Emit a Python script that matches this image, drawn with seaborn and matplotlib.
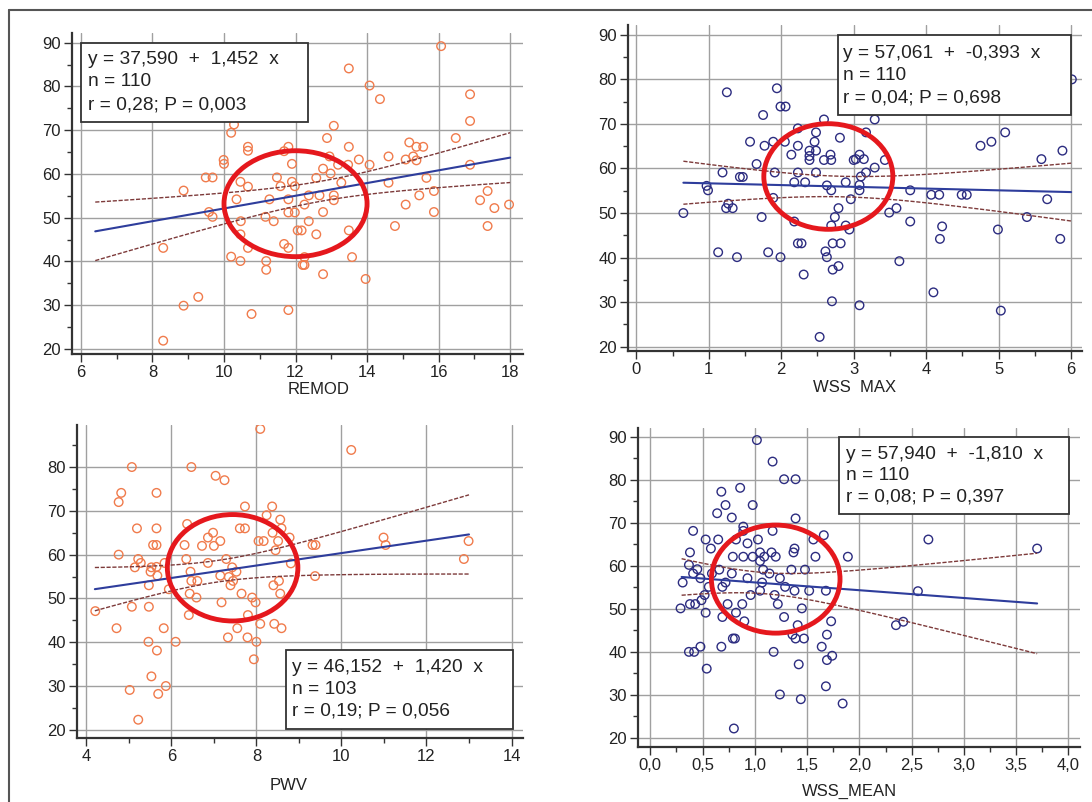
import numpy as np
import pandas as pd
import matplotlib
matplotlib.use("Agg")
import matplotlib.pyplot as plt
import seaborn as sns
from matplotlib.patches import Ellipse, Rectangle
from matplotlib.lines import Line2D
from matplotlib.ticker import MultipleLocator, FuncFormatter

# ---------------- data ----------------
remod_x = [10.28, 10.2, 10.67, 10.67, 11.8, 11.68, 9.99, 10.0, 11.9, 9.49, 9.68, 10.46, 11.48, 11.58, 11.9, 11.98,
           8.87, 10.67, 10.35, 11.27, 11.8, 9.58, 9.68, 11.16, 11.39, 11.8, 11.98, 10.47, 12.06, 12.17, 10.46, 8.3,
           10.67, 11.68, 11.8, 10.2, 10.46, 11.18, 11.18, 12.2, 8.87, 9.28, 10.77, 11.8, 8.3,
           16.07, 13.49, 14.07, 14.36, 16.88, 16.88, 13.07, 12.88, 16.48, 15.18, 15.38, 15.57, 13.49, 14.6, 15.29,
           15.08, 15.38, 12.95, 13.77, 14.07, 13.19, 13.47, 12.77, 12.98, 12.58, 13.28, 14.6, 15.66, 16.88, 12.37,
           12.67, 13.07, 13.07, 12.25, 15.46, 15.87, 17.37, 15.08, 17.16, 17.97, 17.56, 12.77, 15.87, 12.37, 12.58,
           13.49, 14.78, 17.37, 12.25, 12.25, 13.58, 12.77, 13.96]
remod_y = [71.3, 69.4, 66.2, 65.3, 66.2, 65.2, 63.2, 62.3, 62.3, 59.2, 59.2, 58.2, 59.2, 57.2, 58.2, 57.2,
           56.2, 57.1, 54.2, 54.2, 54.2, 51.3, 50.2, 50.2, 49.2, 51.2, 51.2, 49.2, 47.1, 47.1, 46.2, 43.1,
           43.1, 44.0, 43.1, 41.1, 40.1, 40.1, 38.1, 39.2, 29.9, 31.9, 28.0, 28.9, 21.9,
           89.2, 84.1, 80.2, 77.1, 78.2, 72.1, 71.0, 68.2, 68.2, 67.2, 66.2, 66.2, 66.2, 64.0, 64.0,
           63.3, 63.1, 64.0, 63.3, 62.1, 62.1, 62.1, 61.2, 60.1, 59.1, 58.0, 58.0, 59.1, 62.1, 55.1,
           55.1, 55.1, 54.0, 53.0, 55.1, 56.1, 56.1, 53.0, 54.0, 53.0, 52.2, 51.3, 51.3, 49.2, 46.2,
           47.1, 48.1, 48.1, 41.0, 39.2, 41.0, 37.1, 36.0]

wssmax_x = [1.25, 1.94, 1.99, 2.06, 1.75, 2.59, 2.48, 2.23, 2.81, 1.57, 1.89, 1.77, 2.05, 2.46, 2.23, 2.48,
            2.39, 2.39, 2.39, 2.14, 2.59, 2.68, 2.69, 3.0, 1.66, 1.19, 1.43, 1.47, 1.91, 2.23, 2.48, 2.18,
            2.33, 2.63, 2.69, 2.89, 2.96, 0.97, 0.99, 1.89, 1.27, 1.24, 1.33, 0.65, 1.73, 2.18, 2.74, 2.79,
            2.69, 2.89, 2.94, 1.13, 1.39, 1.82, 1.99, 2.23, 2.28, 2.71, 2.82, 2.61, 2.63, 2.71, 2.79, 2.31,
            2.7, 2.53,
            6.01, 3.29, 3.17, 3.08, 3.14, 3.03, 3.43, 3.29, 3.17, 3.10, 3.08, 3.08, 3.08, 3.49, 3.59, 3.78,
            3.78, 3.63, 4.07, 4.18, 4.49, 4.56, 4.22, 4.19, 4.10, 4.75, 4.90, 5.09, 4.99, 5.03, 5.39, 5.59,
            5.67, 5.88, 5.85]
wssmax_y = [77.1, 78.0, 73.9, 73.9, 72.0, 71.0, 68.1, 69.0, 66.9, 66.0, 66.0, 65.1, 66.0, 66.0, 65.1, 64.0,
            64.0, 62.8, 61.9, 63.1, 61.9, 63.1, 61.9, 61.9, 61.0, 59.1, 58.1, 58.1, 59.1, 59.1, 59.1, 56.9,
            56.9, 56.2, 55.1, 56.9, 53.1, 56.1, 55.1, 53.4, 52.1, 51.1, 51.1, 50.0, 49.1, 48.1, 49.1, 51.1,
            47.2, 47.2, 46.3, 41.2, 40.1, 41.2, 40.1, 43.2, 43.2, 43.2, 43.2, 41.4, 40.1, 37.3, 38.1, 36.2,
            30.2, 22.2,
            80.0, 71.0, 68.1, 63.1, 62.1, 62.1, 61.9, 60.2, 59.1, 58.2, 56.3, 55.1, 29.3, 50.1, 51.1, 55.1,
            48.1, 39.2, 54.1, 54.1, 54.1, 54.1, 47.0, 44.2, 32.2, 65.1, 66.0, 68.1, 46.3, 28.1, 49.1, 62.1,
            53.1, 64.0, 44.2]

pwv_x = [8.09, 5.07, 6.47, 7.04, 7.25, 4.82, 4.76, 5.65, 7.73, 8.37, 8.24, 8.56, 6.37, 5.19, 5.65, 7.61,
         7.73, 8.59, 6.98, 8.38, 6.86, 7.15, 5.57, 5.65, 6.31, 6.72, 7.0, 8.05, 8.17, 8.51, 8.78, 8.45,
         4.76, 5.22, 5.28, 5.14, 5.53, 5.65, 5.51, 5.67, 5.84, 6.35, 6.86, 7.29, 7.43, 7.53, 6.45, 7.15,
         7.35, 6.47, 6.61, 7.45, 7.39, 8.81, 8.53, 8.4, 5.47, 5.94, 6.43, 6.59, 7.65, 7.9, 7.98, 8.56,
         7.18, 4.21, 5.07, 5.47, 6.41, 7.8, 8.09, 8.42, 8.59, 7.55, 4.71, 5.82, 7.33, 7.79, 8.0, 5.46,
         6.1, 5.66, 7.94, 5.53, 5.02, 5.87, 5.69, 5.22,
         10.23, 9.32, 9.39, 10.99, 11.04, 12.99, 12.88, 9.38]
pwv_y = [88.7, 80.0, 80.0, 78.0, 77.0, 74.1, 72.0, 74.1, 71.0, 71.0, 69.0, 68.0, 67.0, 66.0, 66.0, 66.0,
         66.0, 66.0, 65.0, 65.0, 63.9, 63.1, 62.2, 62.2, 62.2, 62.0, 62.0, 63.1, 63.1, 63.1, 63.9, 61.0,
         60.0, 59.0, 58.1, 57.1, 57.1, 57.2, 56.1, 55.2, 58.1, 59.0, 58.1, 59.0, 57.1, 56.1, 56.1, 55.2,
         54.9, 54.0, 54.0, 54.0, 53.0, 58.0, 54.0, 53.0, 53.0, 52.1, 51.1, 50.2, 51.1, 50.2, 49.1, 51.1,
         49.1, 47.1, 48.1, 48.1, 46.2, 46.2, 44.2, 44.2, 43.2, 43.2, 43.2, 43.2, 41.1, 41.1, 40.1, 40.1,
         40.1, 38.1, 36.1, 32.2, 29.1, 30.0, 28.2, 22.3,
         83.9, 62.2, 62.2, 63.9, 62.2, 63.1, 59.0, 55.1]

wssmean_x = [1.02, 1.17, 1.28, 1.39, 0.68, 0.86, 0.72, 0.98, 0.64, 0.78, 1.39, 0.89, 0.89, 0.41, 1.17, 0.53,
             0.65, 0.82, 1.03, 1.56, 1.66, 0.58, 0.93, 0.38, 1.05, 1.16, 1.38, 1.37, 0.79, 0.89, 0.98, 1.09,
             1.2, 1.58, 1.89, 1.05, 0.37, 1.08, 0.66, 1.35, 1.48, 0.45, 0.41, 0.59, 0.78, 1.14, 0.48, 0.93,
             1.24, 0.31, 0.72, 1.07, 0.69, 0.56, 1.29, 1.05, 1.38, 1.52, 1.68, 0.52, 0.96, 1.19, 0.49, 0.38,
             0.43, 0.74, 0.88, 1.22, 0.29, 1.45, 0.53, 0.82, 0.69, 1.28, 0.9, 1.73, 1.41, 1.36, 1.39, 1.47,
             1.69, 0.79, 0.81, 0.37, 0.42, 0.48, 0.68, 1.18, 1.64, 1.74, 1.69, 0.54, 1.42, 1.68, 1.24, 1.44,
             1.84, 0.8,
             2.66, 3.7, 2.56, 2.35, 2.42]
wssmean_y = [89.2, 84.2, 80.1, 80.1, 77.2, 78.1, 74.1, 74.1, 72.2, 71.2, 71.0, 69.1, 68.1, 68.1, 68.1, 66.1,
             66.1, 66.1, 66.1, 66.1, 67.1, 64.0, 65.2, 63.1, 63.1, 63.1, 64.0, 63.1, 62.1, 62.1, 62.1, 62.1,
             62.1, 62.1, 62.1, 61.1, 60.2, 59.1, 59.1, 59.1, 59.1, 59.2, 58.2, 58.2, 58.2, 58.2, 57.1, 57.1,
             57.1, 56.1, 56.1, 56.1, 55.1, 55.1, 55.1, 54.2, 54.2, 54.2, 54.2, 53.2, 53.2, 53.2, 52.0, 51.1,
             51.1, 51.1, 51.1, 51.1, 50.1, 50.1, 49.1, 49.1, 48.1, 48.1, 47.1, 47.1, 46.2, 44.0, 43.1, 43.1,
             44.0, 43.1, 43.1, 40.0, 40.0, 41.2, 41.2, 40.0, 41.2, 39.1, 38.1, 36.1, 37.1, 32.0, 30.1, 29.0,
             28.0, 22.2,
             66.1, 64.0, 54.1, 46.2, 47.0]

# regression results printed in the boxes
panel_names = ["REMOD", "WSS  MAX", "PWV", "WSS_MEAN"]
intercepts = [37.590, 57.061, 46.152, 57.940]
slopes = [1.452, -0.393, 1.420, -1.810]
stat_lines = [
    ["y = 37,590  +  1,452  x", "n = 110", "r = 0,28; P = 0,003"],
    ["y = 57,061  +  -0,393  x", "n = 110", "r = 0,04; P = 0,698"],
    ["y = 46,152  +  1,420  x", "n = 103", "r = 0,19; P = 0,056"],
    ["y = 57,940  +  -1,810  x", "n = 110", "r = 0,08; P = 0,397"],
]
line_x_ranges = [(6.4, 18.0), (0.65, 6.0), (4.2, 13.0), (0.3, 3.7)]
# highlighted regions (centre x, centre y, width, height) in data units
highlight = [(12.0, 53.2, 4.0, 24.2), (2.65, 58.2, 1.78, 23.7), (7.44, 57.0, 3.07, 24.3), (1.20, 56.9, 1.23, 25.1)]

# ---------------- style ----------------
sns.set_theme(style="white")
plt.rcParams["font.family"] = ["Liberation Sans", "DejaVu Sans"]

W, H = 1092, 802
fig = plt.figure(figsize=(W / 100, H / 100), dpi=100)
fig.patch.set_facecolor("white")

ORANGE = "#f07b4c"
NAVY = "#2c2c80"
REGBLUE = "#2e3d9c"
CICOL = "#7d3a3a"
RED = "#e5181d"


def px_axes(l, t, r, b):
    return fig.add_axes([l / W, 1 - b / H, (r - l) / W, (b - t) / H])


def style_axes(ax, xlim, ylim, xmaj, xmin, ymax_tick, fmt=None):
    ax.set_xlim(*xlim)
    ax.set_ylim(*ylim)
    ax.xaxis.set_major_locator(MultipleLocator(xmaj))
    ax.xaxis.set_minor_locator(MultipleLocator(xmin))
    ax.set_yticks(np.arange(20, ymax_tick + 1, 10))
    ax.yaxis.set_minor_locator(MultipleLocator(5))
    if fmt is not None:
        ax.xaxis.set_major_formatter(FuncFormatter(fmt))
    ax.grid(True, which="major", color="#a0a0a0", lw=1.0)
    ax.set_axisbelow(True)
    for s in ["top", "right"]:
        ax.spines[s].set_visible(False)
    for s in ["left", "bottom"]:
        ax.spines[s].set_color("#333333")
        ax.spines[s].set_linewidth(1.6)
    ax.tick_params(which="major", direction="out", length=6, width=1.0, color="#333333",
                   labelsize=12, labelcolor="#222222", pad=2, left=True, bottom=True)
    ax.tick_params(which="minor", direction="out", length=3.5, width=1.0, color="#333333",
                   left=True, bottom=True)
    ax.set_xlabel("")
    ax.set_ylabel("")


def draw_panel(ax, x, y, k, color):
    df = pd.DataFrame({"x": x, "y": y})
    sns.scatterplot(data=df, x="x", y="y", ax=ax, s=38, marker="o", facecolor="none",
                    edgecolor=color, linewidth=1.0, zorder=3, legend=False)
    a, b = intercepts[k], slopes[k]
    xa = np.asarray(x, float)
    ya = np.asarray(y, float)
    n = len(xa)
    resid = ya - (a + b * xa)
    s = np.sqrt(np.sum(resid ** 2) / (n - 2))
    sxx = np.sum((xa - xa.mean()) ** 2)
    x0, x1 = line_x_ranges[k]
    xg = np.linspace(x0, x1, 60)
    fit = a + b * xg
    se = s * np.sqrt(1.0 / n + (xg - xa.mean()) ** 2 / sxx)
    t = 1.98
    ldf = pd.DataFrame({"x": xg, "fit": fit, "lo": fit - t * se, "hi": fit + t * se})
    sns.lineplot(data=ldf, x="x", y="fit", ax=ax, color=REGBLUE, lw=1.5, zorder=4)
    sns.lineplot(data=ldf, x="x", y="lo", ax=ax, color=CICOL, lw=1.0, ls=(0, (3, 1.2)), zorder=4)
    sns.lineplot(data=ldf, x="x", y="hi", ax=ax, color=CICOL, lw=1.0, ls=(0, (3, 1.2)), zorder=4)
    cx, cy, ew, eh = highlight[k]
    ax.add_patch(Ellipse((cx, cy), ew, eh, fill=False, ec=RED, lw=3.5, zorder=6))


def stat_box(l, t, r, b, tx, ys, lines):
    fig.add_artist(Rectangle((l / W, 1 - b / H), (r - l) / W, (b - t) / H, transform=fig.transFigure,
                             fc="white", ec="#333333", lw=1.3, zorder=10))
    for yy, s in zip(ys, lines):
        fig.text(tx / W, 1 - yy / H, s, ha="left", va="center", fontsize=13.8, color="#222222", zorder=11)


comma = lambda v, p: f"{v:.1f}".replace(".", ",")

# top-left: REMOD
ax1 = px_axes(72, 33, 523, 354)
draw_panel(ax1, remod_x, remod_y, 0, ORANGE)
style_axes(ax1, (5.75, 18.36), (18.86, 92.2), 2, 1, 90)

# top-right: WSS MAX
ax2 = px_axes(628, 25, 1082, 351)
draw_panel(ax2, wssmax_x, wssmax_y, 1, NAVY)
style_axes(ax2, (-0.114, 6.15), (19.04, 92.2), 1, 0.5, 90)

# bottom-left: PWV
ax3 = px_axes(77, 425, 523, 738)
draw_panel(ax3, pwv_x, pwv_y, 2, ORANGE)
style_axes(ax3, (3.78, 14.27), (18.13, 89.6), 2, 1, 80)

# bottom-right: WSS_MEAN
ax4 = px_axes(638, 428, 1080, 747)
draw_panel(ax4, wssmean_x, wssmean_y, 3, NAVY)
style_axes(ax4, (-0.117, 4.11), (17.9, 92.0), 0.5, 0.25, 90, fmt=comma)

# axis titles
for (xx, yy), name in zip([(319, 390), (855, 387), (289, 785), (849, 791)], panel_names):
    fig.text(xx / W, 1 - yy / H, name, ha="center", va="center", fontsize=12, color="#222222")

# statistics boxes
stat_box(81, 43, 308, 122, 88, [59, 82, 105], stat_lines[0])
stat_box(838, 35, 1071, 115, 843, [53, 75, 98], stat_lines[1])
stat_box(286, 650, 513, 729, 292, [668, 689, 711], stat_lines[2])
stat_box(839, 437, 1069, 514, 846, [454, 475, 497], stat_lines[3])

# outer frame of the figure
fig.add_artist(Line2D([9 / W, 1.0], [1 - 10 / H, 1 - 10 / H], transform=fig.transFigure, color="#555555", lw=1.5))
fig.add_artist(Line2D([9 / W, 9 / W], [1 - 10 / H, 0.0], transform=fig.transFigure, color="#555555", lw=1.5))

fig.savefig("out.png", dpi=100, facecolor="white")
